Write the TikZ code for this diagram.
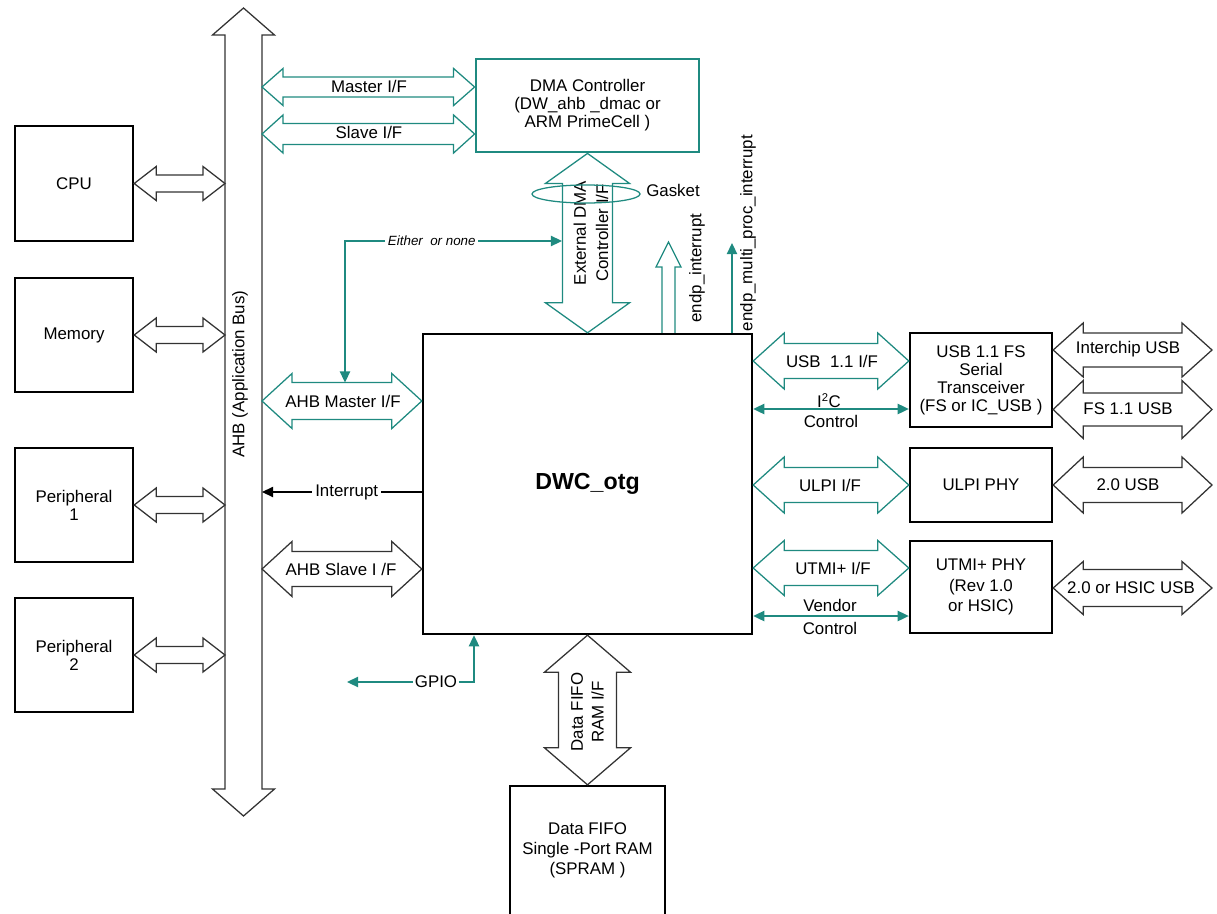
\documentclass[tikz,border=0pt]{standalone}
\usepackage{fontspec}
\setmainfont{Liberation Sans}
\usetikzlibrary{arrows.meta,positioning,calc}
\definecolor{cTeal}{HTML}{1F8A80}
\definecolor{cEdge}{HTML}{333333}
\newcommand{\pxu}{0.025cm}

\begin{document}
\begin{tikzpicture}[
  x=0.025cm, y=-0.025cm,
  font=\fontsize{12}{12.8}\selectfont,
  >={Triangle[length=2.8mm,width=2.6mm]},
  box/.style 2 args={draw=black, line width=1.7pt, align=center, inner sep=1pt,
              minimum width=#1*\pxu, minimum height=#2*\pxu},
  arrblk/.style={draw=cEdge, line width=0.9pt},
  arrteal/.style={draw=cTeal, line width=0.9pt},
  wire/.style={draw=cTeal, line width=1pt},
  % block arrows: #1 head length, #2 head half width, #3 shaft half width (pixels)
  bigh/.style n args={3}{to path={let \p1=(\tikztostart), \p2=(\tikztotarget) in
      (\p1) -- (\x1+#1*\pxu,\y1+#2*\pxu) -- (\x1+#1*\pxu,\y1+#3*\pxu)
      -- (\x2-#1*\pxu,\y2+#3*\pxu) -- (\x2-#1*\pxu,\y2+#2*\pxu) -- (\p2)
      -- (\x2-#1*\pxu,\y2-#2*\pxu) -- (\x2-#1*\pxu,\y2-#3*\pxu)
      -- (\x1+#1*\pxu,\y1-#3*\pxu) -- (\x1+#1*\pxu,\y1-#2*\pxu) -- cycle}},
  bigv/.style n args={3}{to path={let \p1=(\tikztostart), \p2=(\tikztotarget) in
      (\p1) -- (\x1+#2*\pxu,\y1-#1*\pxu) -- (\x1+#3*\pxu,\y1-#1*\pxu)
      -- (\x2+#3*\pxu,\y2+#1*\pxu) -- (\x2+#2*\pxu,\y2+#1*\pxu) -- (\p2)
      -- (\x2-#2*\pxu,\y2+#1*\pxu) -- (\x2-#3*\pxu,\y2+#1*\pxu)
      -- (\x1-#3*\pxu,\y1-#1*\pxu) -- (\x1-#2*\pxu,\y1-#1*\pxu) -- cycle}},
  bigup/.style n args={3}{to path={let \p1=(\tikztostart), \p2=(\tikztotarget) in
      (\x1-#3*\pxu,\y1) -- (\x2-#3*\pxu,\y2-#1*\pxu) -- (\x2-#2*\pxu,\y2-#1*\pxu)
      -- (\p2) -- (\x2+#2*\pxu,\y2-#1*\pxu) -- (\x2+#3*\pxu,\y2-#1*\pxu)
      -- (\x1+#3*\pxu,\y1)}},
]
\useasboundingbox (0,0) rectangle (1217,914);
\clip (0,0) rectangle (1217,914);

% ---- rows ----
\coordinate (yMst) at (0,87);
\coordinate (ySlv) at (0,134);
\coordinate (yAm) at (0,401);
\coordinate (yInt) at (0,492);
\coordinate (yAs) at (0,569);
\coordinate (yIc) at (0,350);
\coordinate (yUsb) at (0,361);
\coordinate (yI2c) at (0,409);
\coordinate (yFs) at (0,409.5);
\coordinate (yUtmi) at (0,568);
\coordinate (yHs) at (0,588);
\coordinate (yVen) at (0,616);
\coordinate (rEdge) at (1212,0);

% ---- application bus ----
\coordinate (bustop) at (243.5,8);
\coordinate (busbot) at (243.5,816);
\node[minimum width=37*\pxu, minimum height=754*\pxu, inner sep=0, outer sep=0] (bus) at (243.5,412) {};
\draw[arrblk, bigv={27}{31}{18.5}] (bustop) to (busbot);
\node[rotate=90] (buslbl) at (240,374) {AHB (Application Bus)};

% ---- masters and slaves on the bus ----
\node[box={118}{115}] (cpu) at (74,183.5) {CPU};
\node[box={118}{114}] (mem) at (74,335) {Memory};
\node[box={118}{114}] (per1) at (74,505) {Peripheral\\1};
\node[box={118}{114}] (per2) at (74,655) {Peripheral\\2};
\foreach \b in {cpu,mem,per1,per2}
  \draw[arrblk, bigh={22}{17}{8.5}] (\b.east) to (bus.west |- \b.east);

% ---- DMA controller ----
\node[box={223}{93}, draw=cTeal, line width=2pt] (dma) at (587.5,105.5)
  {DMA Controller\\(DW\_ahb \_dmac or\\ARM PrimeCell )};
\draw[arrteal, bigh={21}{18.5}{10}] (bus.east |- yMst) to (dma.west |- yMst);
\node (mstlbl) at (369,86) {Master I/F};
\draw[arrteal, bigh={21}{19}{10.5}] (bus.east |- ySlv) to (dma.west |- ySlv);
\node (slvlbl) at (369,132) {Slave I/F};

% ---- core ----
\node[box={329}{300}, font=\fontsize{16.5}{18}\selectfont\bfseries] (dwc) at (587.5,484) {DWC\_otg};

\draw[arrteal, bigv={30}{42}{25}] (dma.south) to (dwc.north);
\node[rotate=90, align=center] (extlbl) at (591,233) {External DMA\\[3pt]Controller I/F};
\draw[cTeal, line width=0.9pt] (586,194) ellipse [x radius=1.35cm, y radius=0.225cm];
\node (gasket) at (673,190) {Gasket};

\coordinate (eonR) at (562,241);
\coordinate (eonD) at (345,382.5);
\draw[wire, <->] (eonR) -| (eonD)
  node[pos=0.3, fill=white, inner sep=2pt, font=\fontsize{9.5}{11}\selectfont\itshape] (eonlbl) {Either\ \ or none};

\draw[arrteal, bigh={30}{27.5}{18.5}] (bus.east |- yAm) to (dwc.west |- yAm);
\node (amlbl) at (343,401) {AHB Master I/F};
\draw[line width=0.8pt, ->] (dwc.west |- yInt) -- (bus.east |- yInt)
  node[pos=0.47, fill=white, inner sep=2pt] (intlbl) {Interrupt};
\draw[arrblk, bigh={30}{27.5}{17.5}] (bus.east |- yAs) to (dwc.west |- yAs);
\node (aslbl) at (341,569) {AHB Slave I /F};

% ---- interrupts out of the top ----
\coordinate (epTip) at (668.5,242);
\draw[arrteal, bigup={25}{12.5}{6.5}] (dwc.north -| epTip) to (epTip);
\node[rotate=90] (eplbl) at (697,268) {endp\_interrupt};
\coordinate (mpTip) at (732,243);
\draw[wire, ->] (dwc.north -| mpTip) -- (mpTip);
\node[rotate=90] (mplbl) at (748,233) {endp\_multi\_proc\_interrupt};

% ---- PHY side ----
\node[box={142}{94}] (usbfs) at (981,380) {USB 1.1 FS\\Serial\\Transceiver\\(FS or IC\_USB )};
\node[box={142}{74}] (ulpi) at (981,485) {ULPI PHY};
\node[box={142}{92}] (utmi) at (981,587) {UTMI+ PHY\\[1.5pt](Rev 1.0\\[1.5pt]or HSIC)};

\draw[arrteal, bigh={31}{28}{17.5}] (dwc.east |- yUsb) to (usbfs.west |- yUsb);
\node (usblbl) at (832,361) {USB\ \ 1.1 I/F};
\draw[wire, <->] (dwc.east |- yI2c) -- (usbfs.west |- yI2c);
\node (i2clbl) at (829,401) {I\textsuperscript{2}C};
\node (ctl1lbl) at (831,421) {Control};

\draw[arrteal, bigh={31}{28}{17.5}] (dwc.east |- ulpi.west) to (ulpi.west);
\node (ulpilbl) at (830,485) {ULPI I/F};

\draw[arrteal, bigh={31}{27.5}{17.5}] (dwc.east |- yUtmi) to (utmi.west |- yUtmi);
\node (utmilbl) at (833,568) {UTMI+ I/F};
\draw[wire, <->] (dwc.east |- yVen) -- (utmi.west |- yVen);
\node (venlbl) at (830,605) {Vendor};
\node (ctl2lbl) at (830,628) {Control};

% ---- external USB ----
\draw[arrblk, bigh={30}{27}{17}] (usbfs.east |- yIc) to (rEdge |- yIc);
\node (iclbl) at (1128,349) {Interchip USB};
\draw[arrblk, bigh={30}{29}{16.5}] (usbfs.east |- yFs) to (rEdge |- yFs);
\node (fslbl) at (1128,409) {FS 1.1 USB};
\draw[arrblk, bigh={30}{28}{17.5}] (ulpi.east) to (rEdge |- ulpi.east);
\node (u20lbl) at (1128,485) {2.0 USB};
\draw[arrblk, bigh={30}{26.5}{18.5}] (utmi.east |- yHs) to (rEdge |- yHs);
\node (hslbl) at (1131,588) {2.0 or HSIC USB};

% ---- GPIO ----
\node[inner sep=1pt] (gpio) at (436,682) {GPIO};
\coordinate (gpioIn) at (474,634);
\coordinate (gpioOut) at (347,682);
\draw[wire, ->] (gpio.east) -| (dwc.south -| gpioIn);
\draw[wire, ->] (gpio.west) -- (gpioOut);

% ---- data FIFO ----
\node[box={155}{160}] (fifo) at (587.5,866) {};
\node[align=center] (fifolbl) at (587.5,850) {Data FIFO\\[1.5pt]Single -Port RAM\\[1.5pt](SPRAM )};
\draw[arrblk, bigv={37}{43}{29}] (dwc.south) to (fifo.north);
\node[rotate=90, align=center] (ramlbl) at (587.5,712) {Data FIFO\\[2pt]RAM I/F};
\end{tikzpicture}
\end{document}
